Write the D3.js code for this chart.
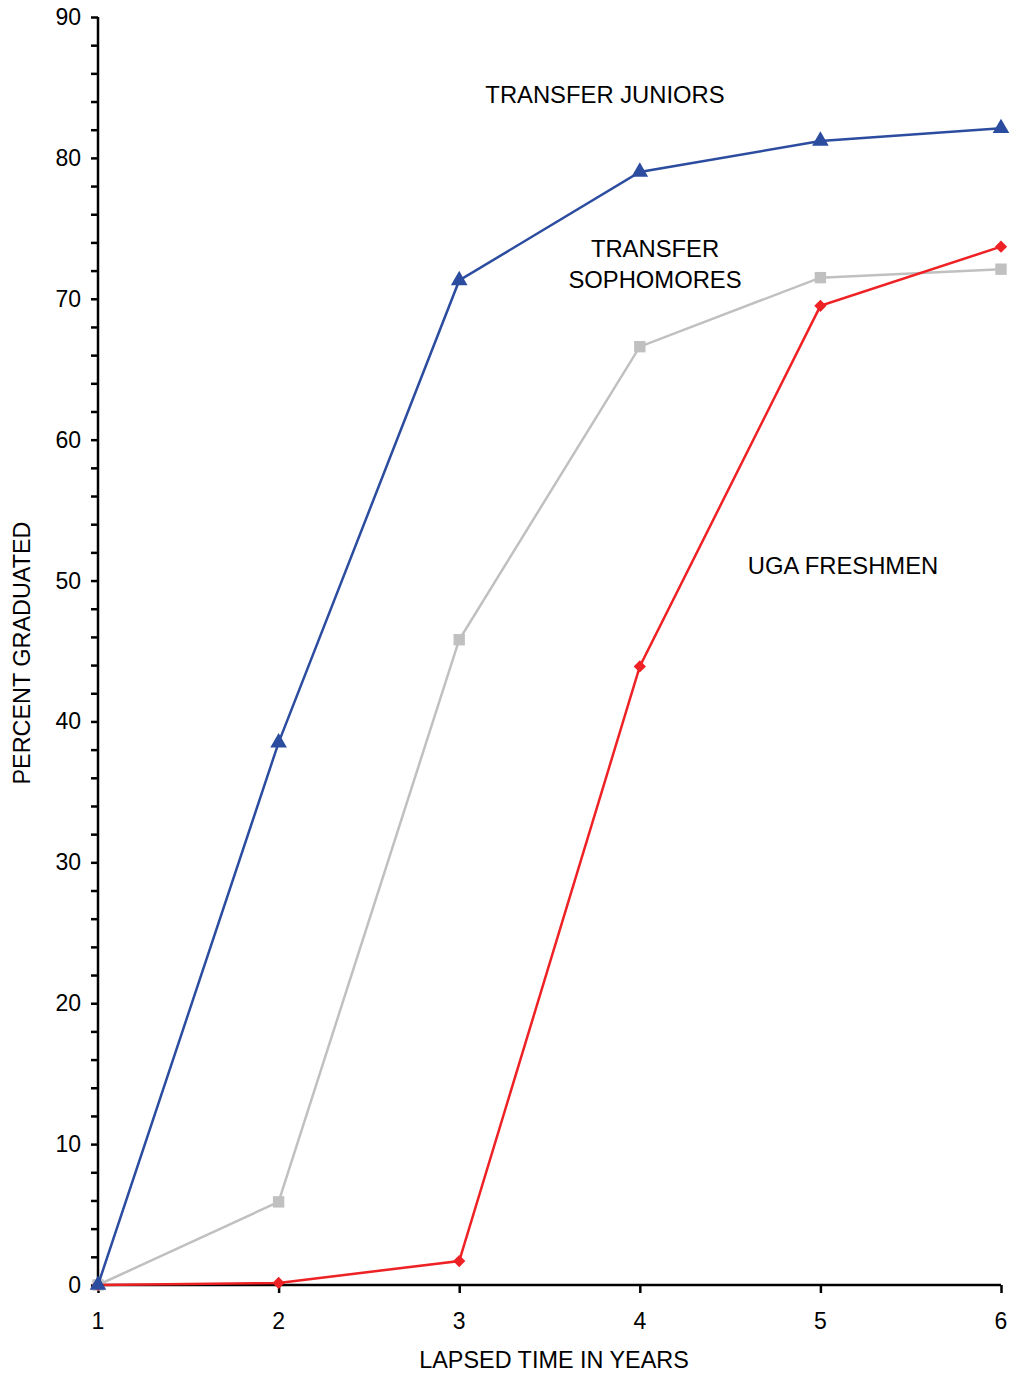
<!DOCTYPE html>
<html><head><meta charset="utf-8">
<script src="https://cdn.jsdelivr.net/npm/d3@7"></script>
<style>body{margin:0;background:#fff}svg{display:block}text{font-family:"Liberation Sans",Arial,sans-serif;fill:#000}</style>
</head><body><svg id="c" width="1009" height="1374"></svg>
<script>
const years = [1, 2, 3, 4, 5, 6];
const juniors = [0, 38.5, 71.3, 79.0, 81.2, 82.1];
const sophomores = [0, 5.9, 45.8, 66.6, 71.5, 72.1];
const freshmen = [0, 0.15, 1.7, 43.9, 69.5, 73.7];
const yTicks = [0, 10, 20, 30, 40, 50, 60, 70, 80, 90];

const svg = d3.select("#c");
const x = d3.scaleLinear().domain([1, 6]).range([98, 1001]);
const y = d3.scaleLinear().domain([0, 90]).range([1285, 17]);

// y axis
const ya = svg.append("g").attr("transform", "translate(98,0)")
  .call(d3.axisLeft(y).tickValues(d3.range(0, 91, 2)).tickSize(7).tickFormat(""));
ya.select(".domain").attr("stroke-width", 2.5).attr("d", "M0,17V1290");
ya.selectAll(".tick line").attr("stroke-width", 2.5);
svg.selectAll(".ylab").data(yTicks).enter().append("text")
  .attr("x", 81).attr("y", d => y(d) + 8).attr("text-anchor", "end")
  .style("font-size", "23px").text(d => d);

// x axis
const xa = svg.append("g").attr("transform", "translate(0,1285)")
  .call(d3.axisBottom(x).tickValues(years).tickSize(8).tickFormat(""));
xa.select(".domain").attr("stroke-width", 2.5).attr("d", "M98,0H1001");
xa.selectAll(".tick line").attr("stroke-width", 2.5);
svg.selectAll(".xlab").data(years).enter().append("text")
  .attr("x", d => x(d)).attr("y", 1329).attr("text-anchor", "middle")
  .style("font-size", "23px").text(d => d);

svg.append("text").attr("x", 554).attr("y", 1368).attr("text-anchor", "middle")
  .style("font-size", "23.4px").text("LAPSED TIME IN YEARS");
svg.append("text").attr("transform", "translate(30,653) rotate(-90)").attr("text-anchor", "middle")
  .style("font-size", "23.4px").text("PERCENT GRADUATED");

const line = d3.line().x((d, i) => x(years[i])).y(d => y(d));
const series = [
  {vals: sophomores, color: "#C0C0C0", sym: d3.symbolSquare, size: 130, rot: 0},
  {vals: freshmen, color: "#EE2124", sym: d3.symbolSquare, size: 75, rot: 45},
  {vals: juniors, color: "#2B4C9F", sym: d3.symbolTriangle, size: 120, rot: 0}
];
series.forEach(s => {
  svg.append("path").datum(s.vals).attr("d", line).attr("fill", "none")
    .attr("stroke", s.color).attr("stroke-width", 2.5);
  svg.selectAll(null).data(s.vals).enter().append("path")
    .attr("d", d3.symbol().type(s.sym).size(s.size))
    .attr("transform", (d, i) => `translate(${x(years[i])},${y(d)}) rotate(${s.rot})`)
    .attr("fill", s.color);
});

svg.append("text").attr("x", 605).attr("y", 103).attr("text-anchor", "middle")
  .style("font-size", "23.8px").text("TRANSFER JUNIORS");
svg.append("text").attr("x", 655).attr("y", 257).attr("text-anchor", "middle")
  .style("font-size", "23.8px").text("TRANSFER");
svg.append("text").attr("x", 655).attr("y", 288).attr("text-anchor", "middle")
  .style("font-size", "23.8px").text("SOPHOMORES");
svg.append("text").attr("x", 843).attr("y", 574).attr("text-anchor", "middle")
  .style("font-size", "23.8px").text("UGA FRESHMEN");
</script></body></html>
